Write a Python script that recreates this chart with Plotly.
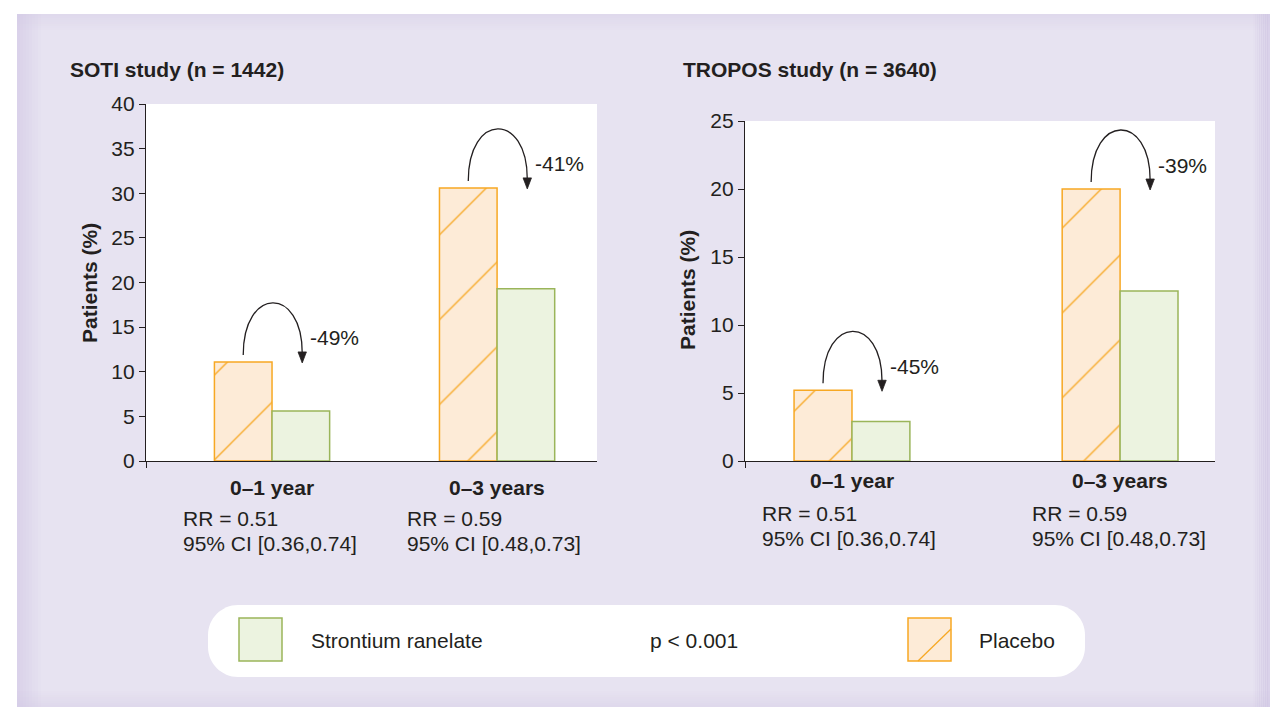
import plotly.graph_objects as go

W, H = 1282, 707

# ---------------- data ----------------
categories = ["0–1 year", "0–3 years"]
soti_placebo = [11.1, 30.6]
soti_strontium = [5.6, 19.3]
tropos_placebo = [5.2, 20.0]
tropos_strontium = [2.9, 12.5]
soti_reduction = ["-49%", "-41%"]
tropos_reduction = ["-45%", "-39%"]
soti_rr = [("RR = 0.51", "95% CI [0.36,0.74]"), ("RR = 0.59", "95% CI [0.48,0.73]")]
tropos_rr = [("RR = 0.51", "95% CI [0.36,0.74]"), ("RR = 0.59", "95% CI [0.48,0.73]")]
soti_yticks = [0, 5, 10, 15, 20, 25, 30, 35, 40]
tropos_yticks = [0, 5, 10, 15, 20, 25]
titles = ["SOTI study (n = 1442)", "TROPOS study (n = 3640)"]
legend_labels = ["Strontium ranelate", "p < 0.001", "Placebo"]

# ---------------- style ----------------
FONT = "Liberation Sans, Arial, Helvetica, sans-serif"
TXT = "#231F20"
LAV = "#E7E3F1"
LAV_EDGE = "#CFC5E3"
PLA_FILL = "#FDEBD7"
PLA_LINE = "#F7A823"
STR_FILL = "#ECF3E0"
STR_LINE = "#9AB55A"
FS = 21


def X(px):
    return px / W


def Y(py):
    return 1 - py / H


panels = [
    dict(xa="x", ya="y", x0=146, x1=597, y0=104, y1=461, xr=(-0.56, 1.444),
         ymax=40, yt=soti_yticks, bw=0.256, pl=soti_placebo, st=soti_strontium,
         red=soti_reduction, rr=soti_rr, rrx=[181, 405], rry=[518, 543],
         caty=487, title=titles[0], tx=68, ytx=90, yty=283),
    dict(xa="x2", ya="y2", x0=745, x1=1215, y0=121, y1=461, xr=(-0.399, 1.354),
         ymax=25, yt=tropos_yticks, bw=0.216, pl=tropos_placebo, st=tropos_strontium,
         red=tropos_reduction, rr=tropos_rr, rrx=[760, 1030], rry=[513, 538],
         caty=481, title=titles[1], tx=681, ytx=688, yty=290),
]

fig = go.Figure()
shapes = []
annotations = []

# background (lavender panel with soft darker edges)
shapes.append(dict(type="rect", xref="paper", yref="paper", x0=X(17), x1=X(1270),
                   y0=Y(707), y1=Y(14), fillcolor=LAV, line_width=0, layer="below"))
n = 8
for k in range(n):
    op = 0.55 * (1 - k / n)
    shapes.append(dict(type="rect", xref="paper", yref="paper", x0=X(17 + 3 * k), x1=X(20 + 3 * k),
                       y0=Y(707), y1=Y(14), fillcolor=LAV_EDGE, opacity=op, line_width=0, layer="below"))
    shapes.append(dict(type="rect", xref="paper", yref="paper", x0=X(1267 - 2 * k), x1=X(1270 - 2 * k),
                       y0=Y(707), y1=Y(14), fillcolor=LAV_EDGE, opacity=op, line_width=0, layer="below"))
    shapes.append(dict(type="rect", xref="paper", yref="paper", x0=X(17), x1=X(1270),
                       y0=Y(707 - 2 * k), y1=Y(705 - 2 * k), fillcolor=LAV_EDGE, opacity=op * 0.6,
                       line_width=0, layer="below"))
    shapes.append(dict(type="rect", xref="paper", yref="paper", x0=X(17), x1=X(1270),
                       y0=Y(16 + 2 * k), y1=Y(14 + 2 * k), fillcolor=LAV_EDGE, opacity=op * 0.6,
                       line_width=0, layer="below"))

# legend box (rounded)
lx0, lx1, ly0, ly1, r = 208, 1085, 605, 677, 30
k = 0.45
legend_path = (
    f"M{X(lx0 + r)},{Y(ly0)} L{X(lx1 - r)},{Y(ly0)} "
    f"C{X(lx1 - r * k)},{Y(ly0)} {X(lx1)},{Y(ly0 + r * k)} {X(lx1)},{Y(ly0 + r)} "
    f"L{X(lx1)},{Y(ly1 - r)} "
    f"C{X(lx1)},{Y(ly1 - r * k)} {X(lx1 - r * k)},{Y(ly1)} {X(lx1 - r)},{Y(ly1)} "
    f"L{X(lx0 + r)},{Y(ly1)} "
    f"C{X(lx0 + r * k)},{Y(ly1)} {X(lx0)},{Y(ly1 - r * k)} {X(lx0)},{Y(ly1 - r)} "
    f"L{X(lx0)},{Y(ly0 + r)} "
    f"C{X(lx0)},{Y(ly0 + r * k)} {X(lx0 + r * k)},{Y(ly0)} {X(lx0 + r)},{Y(ly0)} Z"
)
shapes.append(dict(type="path", xref="paper", yref="paper", path=legend_path,
                   fillcolor="white", line_width=0, layer="below"))

layout_axes = {}
for i, p in enumerate(panels):
    sfx = "" if i == 0 else str(i + 1)
    xa, ya = p["xa"], p["ya"]
    # bars
    fig.add_trace(go.Bar(
        x=[0, 1], y=p["pl"], width=p["bw"], offset=-p["bw"], xaxis=xa, yaxis=ya,
        name="Placebo", showlegend=False, hoverinfo="skip",
        marker=dict(color=PLA_FILL, line=dict(color=PLA_LINE, width=1.5),
                    pattern=dict(shape="/", fgcolor=PLA_LINE, bgcolor=PLA_FILL,
                                 size=60, solidity=0.022, fillmode="replace")),
    ))
    fig.add_trace(go.Bar(
        x=[0, 1], y=p["st"], width=p["bw"], offset=0, xaxis=xa, yaxis=ya,
        name="Strontium ranelate", showlegend=False, hoverinfo="skip",
        marker=dict(color=STR_FILL, line=dict(color=STR_LINE, width=1.5)),
    ))
    # white plot area
    shapes.append(dict(type="rect", xref=f"{xa} domain", yref=f"{ya} domain",
                       x0=0, x1=1, y0=0, y1=1, fillcolor="white", line_width=0, layer="below"))
    layout_axes["xaxis" + sfx] = dict(
        domain=[X(p["x0"]), X(p["x1"])], range=list(p["xr"]), anchor=ya,
        showline=True, linecolor=TXT, linewidth=1.3, showgrid=False, zeroline=False,
        tickmode="array", tickvals=[p["xr"][0]], ticks="outside", ticklen=6,
        tickcolor=TXT, tickwidth=1, showticklabels=False, fixedrange=True)
    layout_axes["yaxis" + sfx] = dict(
        domain=[Y(p["y1"]), Y(p["y0"])], range=[0, p["ymax"]], anchor=xa,
        showline=True, linecolor=TXT, linewidth=1.3, showgrid=False, zeroline=False,
        tickmode="array", tickvals=p["yt"], ticks="outside", ticklen=6, tickcolor=TXT,
        tickwidth=1, tickfont=dict(family=FONT, size=FS, color=TXT), fixedrange=True)

    sx = (p["x1"] - p["x0"]) / (p["xr"][1] - p["xr"][0])
    sy = (p["y1"] - p["y0"]) / p["ymax"]

    for c in range(2):
        # curved arrow from placebo bar towards strontium bar
        xs = c - p["bw"] / 2
        ys = p["pl"][c] + 7 / sy
        xe = xs + 59 / sx
        tip = ys - 8 / sy
        ye = tip + 10 / sy
        h = ys + 69 / sy
        shapes.append(dict(type="path", xref=xa, yref=ya,
                           path=f"M{xs},{ys} C{xs},{h} {xe},{h} {xe},{ye}",
                           line=dict(color=TXT, width=1.3)))
        shapes.append(dict(type="path", xref=xa, yref=ya,
                           path=f"M{xe - 4.2 / sx},{ye + 1 / sy} L{xe + 4.2 / sx},{ye + 1 / sy} L{xe},{tip} Z",
                           fillcolor=TXT, line=dict(color=TXT, width=0.8)))
        annotations.append(dict(xref=xa, yref=ya, x=xe + 6 / sx, y=tip + 25 / sy,
                                text=p["red"][c], showarrow=False, xanchor="left",
                                yanchor="middle", font=dict(family=FONT, size=FS, color=TXT)))
        # category label
        annotations.append(dict(xref=xa, yref="paper", x=c, y=Y(p["caty"]),
                                text=f"<b>{categories[c]}</b>", showarrow=False,
                                xanchor="center", yanchor="middle",
                                font=dict(family=FONT, size=FS, color=TXT)))
        # RR text
        for li in range(2):
            annotations.append(dict(xref="paper", yref="paper", x=X(p["rrx"][c]),
                                    y=Y(p["rry"][li]), text=p["rr"][c][li], showarrow=False,
                                    xanchor="left", yanchor="middle",
                                    font=dict(family=FONT, size=FS, color=TXT)))
    # panel title
    annotations.append(dict(xref="paper", yref="paper", x=X(p["tx"]), y=Y(70),
                            text=f"<b>{p['title']}</b>", showarrow=False, xanchor="left",
                            yanchor="middle", font=dict(family=FONT, size=FS, color=TXT)))
    # y-axis title
    annotations.append(dict(xref="paper", yref="paper", x=X(p["ytx"]), y=Y(p["yty"]),
                            text="<b>Patients (%)</b>", showarrow=False, textangle=-90,
                            xanchor="center", yanchor="middle",
                            font=dict(family=FONT, size=FS, color=TXT)))

# legend swatches
shapes.append(dict(type="rect", xref="paper", yref="paper", x0=X(239), x1=X(282),
                   y0=Y(661), y1=Y(618), fillcolor=STR_FILL, line=dict(color=STR_LINE, width=1.5)))
shapes.append(dict(type="rect", xref="paper", yref="paper", x0=X(908), x1=X(951),
                   y0=Y(661), y1=Y(618), fillcolor=PLA_FILL, line=dict(color=PLA_LINE, width=1.5)))
shapes.append(dict(type="line", xref="paper", yref="paper", x0=X(918), x1=X(951),
                   y0=Y(661), y1=Y(629), line=dict(color=PLA_LINE, width=1.3)))
annotations.append(dict(xref="paper", yref="paper", x=X(309), y=Y(640), text=legend_labels[0],
                        showarrow=False, xanchor="left", yanchor="middle",
                        font=dict(family=FONT, size=FS, color=TXT)))
annotations.append(dict(xref="paper", yref="paper", x=X(694), y=Y(640), text=legend_labels[1],
                        showarrow=False, xanchor="center", yanchor="middle",
                        font=dict(family=FONT, size=FS, color=TXT)))
annotations.append(dict(xref="paper", yref="paper", x=X(977), y=Y(640), text=legend_labels[2],
                        showarrow=False, xanchor="left", yanchor="middle",
                        font=dict(family=FONT, size=FS, color=TXT)))

fig.update_layout(
    width=W, height=H, autosize=False,
    margin=dict(l=0, r=0, t=0, b=0, pad=0, autoexpand=False),
    paper_bgcolor="white", plot_bgcolor="rgba(0,0,0,0)",
    barmode="overlay", showlegend=False,
    font=dict(family=FONT, size=FS, color=TXT),
    shapes=shapes, annotations=annotations,
    **layout_axes,
)

post = (
    "document.body.style.margin='0';"
    "document.documentElement.style.overflow='hidden';"
    "var gd=document.getElementById('{plot_id}');"
    "gd.style.position='fixed';gd.style.left='0px';gd.style.top='0px';"
)
fig.write_html("out.html", config={"displayModeBar": False}, post_script=post)
